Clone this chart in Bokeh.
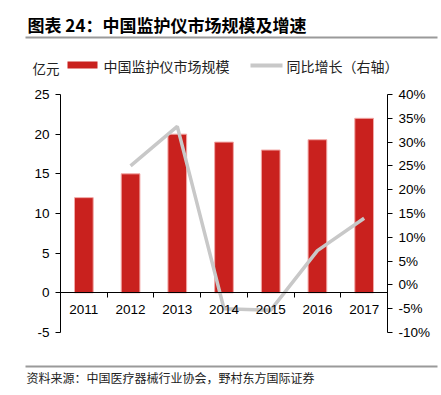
from bokeh.plotting import figure
from bokeh.layouts import column
from bokeh.models import (Range1d, LinearAxis, FixedTicker, Label, BoxAnnotation,
                          ColumnDataSource)
from bokeh.embed import file_html
from bokeh.resources import INLINE

years = ["2011", "2012", "2013", "2014", "2015", "2016", "2017"]
market_size = [12, 15, 20, 19, 18, 19.3, 22]          # 亿元
growth_years = ["2012", "2013", "2014", "2015", "2016", "2017"]
growth_pct = [25.0, 33.3, -5.0, -5.3, 7.2, 14.0]      # %
left_ticks = [-5, 0, 5, 10, 15, 20, 25]
right_ticks = [-10, -5, 0, 5, 10, 15, 20, 25, 30, 35, 40]

title_text = "图表 24：中国监护仪市场规模及增速"
unit_text = "亿元"
bar_name = "中国监护仪市场规模"
line_name = "同比增长（右轴）"
source_text = "资料来源：中国医疗器械行业协会，野村东方国际证券"

RED = "#c9211e"
GRAY = "#c8c8c8"
RULE = "#9a9a9a"
FONT = "Liberation Sans"
CJK = "Noto Sans CJK SC"
W = 441


def blank(h):
    f = figure(width=W, height=h, output_backend="svg", toolbar_location=None,
               x_range=Range1d(0, W), y_range=Range1d(h, 0),
               x_axis_type=None, y_axis_type=None, min_border=0)
    f.frame_align = False
    f.outline_line_color = None
    f.grid.grid_line_color = None
    return f


def box(f, l, r, t, b, color):
    f.add_layout(BoxAnnotation(left=l, right=r, top=t, bottom=b, fill_color=color,
                               fill_alpha=1, line_color=None))


# ---------- header (title, rule, legend) ----------
H1 = 80
head = blank(H1)
head.add_layout(Label(x=27, y=24, text=title_text, text_font=CJK, text_font_size="17px",
                      text_font_style="bold", text_baseline="middle", text_color="black"))
box(head, 25, 437, 36, 38, RULE)
head.add_layout(Label(x=32, y=67, text=unit_text, text_font=CJK, text_font_size="13.5px",
                      text_baseline="middle", text_color="#222222"))
box(head, 67, 97, 61, 68, RED)
head.add_layout(Label(x=103, y=65, text=bar_name, text_font=CJK, text_font_size="14px",
                      text_baseline="middle", text_color="#222222"))
box(head, 250, 282, 63, 67, GRAY)
head.add_layout(Label(x=286, y=65, text=line_name, text_font=CJK, text_font_size="14px",
                      text_baseline="middle", text_color="#222222"))

# ---------- chart ----------
xpos = {y: i + 0.5 for i, y in enumerate(years)}
bar_src = ColumnDataSource(dict(x=[xpos[y] for y in years], top=market_size))
line_src = ColumnDataSource(dict(x=[xpos[y] for y in growth_years], y=growth_pct))

H2 = 282
p = figure(width=W, height=H2, output_backend="svg", toolbar_location=None,
           x_range=Range1d(0, len(years)), y_range=Range1d(-5, 25),
           min_border_left=60, min_border_right=54, min_border_top=14,
           min_border_bottom=30)
p.frame_align = False
p.outline_line_color = None
p.grid.grid_line_color = None
p.extra_y_ranges = {"pct": Range1d(-10, 40)}

p.vbar(x="x", top="top", width=0.4, source=bar_src, fill_color=RED,
       line_color="#f2a8a6", line_width=1)
p.line(x="x", y="y", source=line_src, y_range_name="pct", line_color=GRAY,
       line_width=3.5)

xa = p.xaxis[0]
xa.fixed_location = 0
xa.ticker = FixedTicker(ticks=[xpos[y] for y in years],
                        minor_ticks=list(range(len(years) + 1)))
xa.major_label_overrides = {xpos[y]: y for y in years}
xa.major_tick_line_color = None
xa.minor_tick_line_color = "black"
xa.minor_tick_out = 5
xa.minor_tick_in = 0
xa.axis_line_color = "black"
xa.major_label_text_font = FONT
xa.major_label_text_font_size = "13.5px"
xa.major_label_text_color = "black"
xa.major_label_standoff = 6

ya = p.yaxis[0]
ya.ticker = FixedTicker(ticks=left_ticks, minor_ticks=[])
ya.major_label_overrides = {t: str(t) for t in left_ticks}
ya.major_tick_out = 5
ya.major_tick_in = 0
ya.axis_line_color = "black"
ya.major_label_text_font = FONT
ya.major_label_text_font_size = "13.5px"
ya.major_label_text_color = "black"
ya.major_label_standoff = 6

ra = LinearAxis(y_range_name="pct", ticker=FixedTicker(ticks=right_ticks, minor_ticks=[]),
                major_label_overrides={t: f"{t}%" for t in right_ticks})
ra.major_tick_out = 5
ra.major_tick_in = 0
ra.axis_line_color = "black"
ra.major_label_text_font = FONT
ra.major_label_text_font_size = "13.5px"
ra.major_label_text_color = "black"
ra.major_label_standoff = 6
p.add_layout(ra, "right")

# ---------- footer ----------
H3 = 395 - H1 - H2
foot = blank(H3)
box(foot, 25, 437, 3, 5, RULE)
foot.add_layout(Label(x=26, y=15, text=source_text, text_font=CJK, text_font_size="12px",
                      text_baseline="middle", text_color="#222222"))

layout = column(head, p, foot, spacing=0)
open("out.html", "w").write(file_html(layout, INLINE))
